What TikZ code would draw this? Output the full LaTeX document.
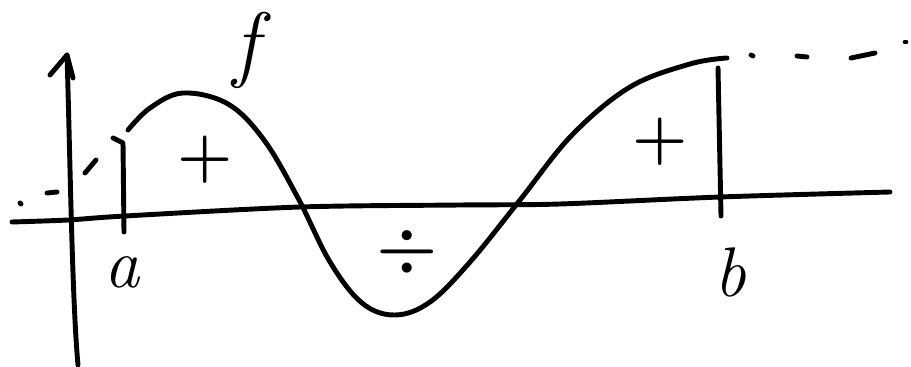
\documentclass[tikz,border=0pt]{standalone}
\usetikzlibrary{arrows.meta}
\begin{document}
\begin{tikzpicture}[x=0.02cm,y=-0.02cm,
  pen/.style={line width=2.8pt,line cap=round,line join=round},
  lbl/.style={inner sep=0pt,font=\fontsize{40}{44}\selectfont}]
\useasboundingbox (0,0) rectangle (911,367);
% axes
\coordinate (ybot) at (78,365);
\coordinate (ytop) at (67,55);
\draw[pen] (ybot) .. controls (72,300) and (70,150) .. (ytop);
\draw[pen] (50,75) -- (ytop) -- (73,78);
\coordinate (xl) at (12,222);
\coordinate (xr) at (890,192);
\draw[pen] plot[smooth] coordinates {(xl) (68,220) (125,216) (300,207) (460,205) (560,204) (720,197) (xr)};
% boundaries
\draw[pen] (113,138) -- (123,143) -- (124,232);
\draw[pen] (718,68) -- (721,216);
% function
\draw[pen] plot[smooth,tension=0.6] coordinates {(128,130) (150,108) (183,93) (228,104) (264,140) (298,198) (330,262) (362,303) (395,315) (430,302) (470,262) (520,200) (572,135) (630,87) (690,64) (727,58)};
% dashed continuations
\draw[pen] (20,203) -- (21,204);
\draw[pen] (47,193) -- (57,192);
\draw[pen] (85,173) -- (96,160);
\draw[pen] (751,55) -- (753,56);
\draw[pen] (797,56) -- (807,57);
\draw[pen] (851,58) -- (875,53);
\draw[pen] (905,42) -- (906,42);
% labels
\node[lbl] (f) at (252,50) {\fontsize{48}{52}\selectfont\textit{f}};
\node[lbl] (p1) at (205,160) {\fontsize{36}{40}\selectfont\textbf{+}};
\node[lbl] (p2) at (660,142) {\fontsize{36}{40}\selectfont\textbf{+}};
\node[lbl] (m) at (407,252) {\fontsize{40}{44}\selectfont\textbf{÷}};
\node[lbl] (a) at (123,272) {\textit{a}};
\node[lbl] (b) at (730,272) {\textit{b}};
\end{tikzpicture}
\end{document}
